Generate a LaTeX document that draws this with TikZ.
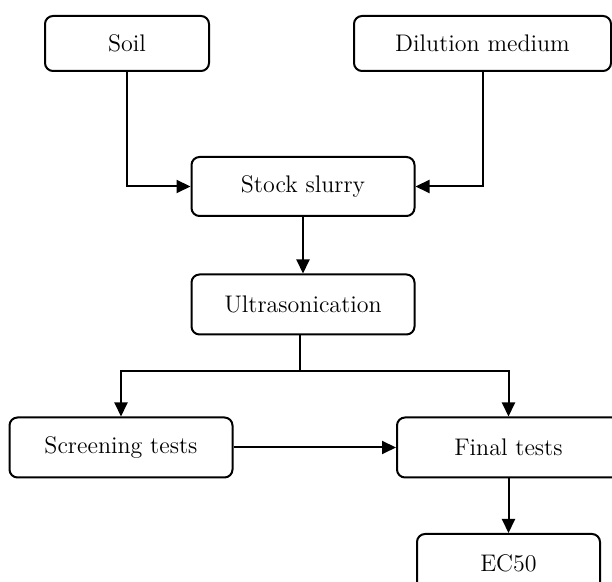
\documentclass[tikz,border=0pt]{standalone}
\usepackage{tikz}
\usetikzlibrary{arrows.meta, positioning}

\tikzset{
  stepbox/.style={rectangle, rounded corners=4pt, draw=black, line width=1pt,
    minimum width=111.5pt, minimum height=30pt, align=center, inner sep=0pt,
    font=\fontsize{12}{14}\selectfont},
  flowarrow/.style={line width=1pt, -{Triangle[length=7pt,width=6.5pt]}}
}

\begin{document}
\begin{tikzpicture}[x=0.5pt, y=-0.5pt]
    \useasboundingbox (0,0) rectangle (612,582);

    % inputs
    \node[stepbox, minimum width=82pt, minimum height=27.5pt] (soil) at (127,43.5) {Soil};
    \node[stepbox, minimum width=128.5pt, minimum height=27.5pt] (dilution) at (482.5,43.5) {Dilution medium};

    % preparation
    \node[stepbox, minimum height=29.5pt] (stock) at (303,186.5) {Stock slurry};
    \node[stepbox] (ultra) at (303,304.5) {Ultrasonication};
    \coordinate (split) at (300,371);

    % tests
    \node[stepbox] (screen) at (121,447.5) {Screening tests};
    \node[stepbox] (final) at (508.5,447.5) {Final tests};
    \node[stepbox, minimum width=91.5pt, minimum height=29pt] (ecfifty) at (508.5,563) {EC50};

    % connectors
    \draw[flowarrow] (soil) |- (stock);
    \draw[flowarrow] (dilution) |- (stock);
    \draw[flowarrow] (stock) -- (ultra);
    \draw[line width=1pt] (ultra.south -| split) -- (split);
    \draw[flowarrow] (split) -| (screen);
    \draw[flowarrow] (split) -| (final);
    \draw[flowarrow] (screen) -- (final);
    \draw[flowarrow] (final) -- (ecfifty);
\end{tikzpicture}
\end{document}
